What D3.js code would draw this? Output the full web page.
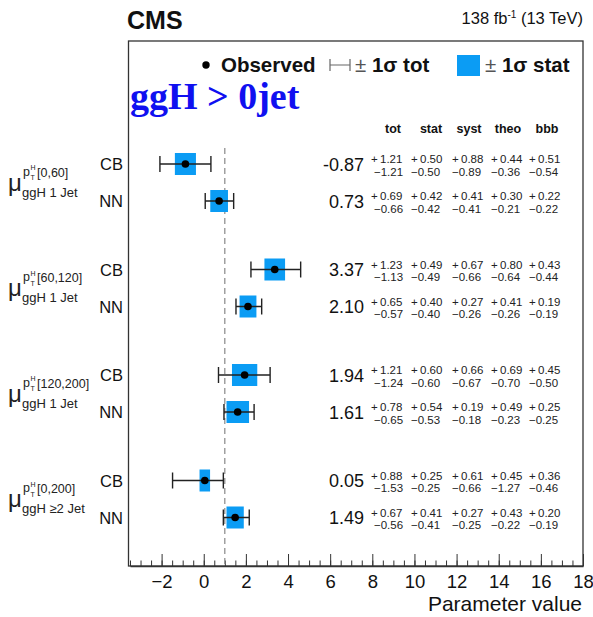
<!DOCTYPE html>
<html>
<head>
<meta charset="utf-8">
<script src="https://cdn.jsdelivr.net/npm/d3@7"></script>
<style>
  body { margin: 0; background: #fff; }
  svg { font-family: "Liberation Sans", Arial, Helvetica, sans-serif; }
</style>
</head>
<body>
<svg id="chart" width="593" height="617"></svg>
<script>
// bins and methods
var ptBins = ["[0,60]", "[60,120]", "[120,200]", "[0,200]"];
var jetLabels = ["ggH 1 Jet", "ggH 1 Jet", "ggH 1 Jet", "ggH \u22652 Jet"];
var methods = ["CB", "NN"];

// one entry per row: bin0 CB, bin0 NN, bin1 CB, ...
var central  = [-0.87, 0.73, 3.37, 2.10, 1.94, 1.61, 0.05, 1.49];
var totUp    = [1.21, 0.69, 1.23, 0.65, 1.21, 0.78, 0.88, 0.67];
var totDown  = [1.21, 0.66, 1.13, 0.57, 1.24, 0.65, 1.53, 0.56];
var statUp   = [0.50, 0.42, 0.49, 0.40, 0.60, 0.54, 0.25, 0.41];
var statDown = [0.50, 0.42, 0.49, 0.40, 0.60, 0.53, 0.25, 0.41];
var systUp   = [0.88, 0.41, 0.67, 0.27, 0.66, 0.19, 0.61, 0.27];
var systDown = [0.89, 0.41, 0.66, 0.26, 0.67, 0.18, 0.66, 0.25];
var theoUp   = [0.44, 0.30, 0.80, 0.41, 0.69, 0.49, 0.45, 0.43];
var theoDown = [0.36, 0.21, 0.64, 0.26, 0.70, 0.23, 1.27, 0.22];
var bbbUp    = [0.51, 0.22, 0.43, 0.19, 0.45, 0.25, 0.36, 0.20];
var bbbDown  = [0.54, 0.22, 0.44, 0.19, 0.50, 0.25, 0.46, 0.19];

var columns = ["tot", "stat", "syst", "theo", "bbb"];
var xTicks = [-2, 0, 2, 4, 6, 8, 10, 12, 14, 16, 18];
var refValue = 1;

var svg = d3.select("#chart");
var blue = "#0b9cf4";

var frame = { left: 128.5, right: 583, top: 41, bottom: 566 };

var x = d3.scaleLinear().domain([-3.5, 18]).range([130, 583]);
var yGroup = d3.scaleLinear().domain([0, 3]).range([164, 480.5]);
var methodOffset = 37;

var rows = central.map(function(v, i) {
  var g = Math.floor(i / 2), m = i % 2;
  return {
    y: yGroup(g) + m * methodOffset,
    value: v, method: methods[m],
    errs: [[totUp[i], totDown[i]], [statUp[i], statDown[i]], [systUp[i], systDown[i]],
           [theoUp[i], theoDown[i]], [bbbUp[i], bbbDown[i]]]
  };
});

// frame
svg.append("rect")
    .attr("x", frame.left).attr("y", frame.top)
    .attr("width", frame.right - frame.left).attr("height", frame.bottom - frame.top)
    .attr("fill", "none").attr("stroke", "#333").attr("stroke-width", 1.3);

// axis with inward ticks
var minor = svg.append("g").attr("transform", "translate(0," + frame.bottom + ")")
    .call(d3.axisBottom(x).tickValues(d3.range(-3.5, 18.01, 0.5)).tickSizeInner(-5.5).tickSizeOuter(0).tickFormat(""));
minor.select(".domain").remove();
minor.selectAll("line").attr("stroke", "#333");

var axis = svg.append("g").attr("transform", "translate(0," + frame.bottom + ")")
    .call(d3.axisBottom(x).tickValues(xTicks).tickSizeInner(-12).tickSizeOuter(0).tickPadding(9));
axis.select(".domain").attr("stroke", "#333").attr("stroke-width", 1.3);
axis.selectAll("line").attr("stroke", "#333");
axis.selectAll("text").attr("font-size", 18.5).attr("fill", "#111")
    .style("font-family", "Liberation Sans, Arial, sans-serif");

svg.append("text").attr("x", 582).attr("y", 611).attr("text-anchor", "end")
    .attr("font-size", 21).attr("fill", "#111").text("Parameter value");

// reference line
svg.append("line")
    .attr("x1", x(refValue)).attr("x2", x(refValue))
    .attr("y1", 148).attr("y2", frame.bottom)
    .attr("stroke", "#888").attr("stroke-width", 1.2).attr("stroke-dasharray", "6,4");

// header texts
svg.append("text").attr("x", 127).attr("y", 29).attr("font-size", 25)
    .attr("font-weight", "bold").attr("fill", "#111").text("CMS");
var lumi = svg.append("text").attr("x", 583).attr("y", 24).attr("text-anchor", "end")
    .attr("font-size", 16.5).attr("fill", "#111");
lumi.append("tspan").text("138 fb");
lumi.append("tspan").attr("dy", -6).attr("font-size", 10).text("-1");
lumi.append("tspan").attr("dy", 6).text(" (13 TeV)");

// legend
var ly = 72;
svg.append("circle").attr("cx", 206).attr("cy", ly - 7).attr("r", 3.7).attr("fill", "#000");
svg.append("text").attr("x", 221).attr("y", ly).attr("font-size", 20.5)
    .attr("font-weight", "bold").attr("fill", "#111").text("Observed");
svg.append("path").attr("d", "M330,59V71M330,65H350M350,59V71")
    .attr("stroke", "#666").attr("stroke-width", 1.2).attr("fill", "none");
svg.append("text").attr("x", 355).attr("y", ly).attr("font-size", 20.5).attr("fill", "#111")
    .html('<tspan font-weight="normal" fill="#555">\u00b1</tspan><tspan font-weight="bold"> 1\u03c3 tot</tspan>');
svg.append("rect").attr("x", 457).attr("y", 55).attr("width", 23).attr("height", 21).attr("fill", blue);
svg.append("text").attr("x", 485).attr("y", ly).attr("font-size", 20.5).attr("fill", "#111")
    .html('<tspan font-weight="normal" fill="#555">\u00b1</tspan><tspan font-weight="bold"> 1\u03c3 stat</tspan>');

svg.append("text").attr("x", 130).attr("y", 109)
    .style("font-family", "'Liberation Serif', 'Times New Roman', serif")
    .attr("font-size", 38).attr("font-weight", "bold").attr("fill", "#1010f0")
    .text("ggH > 0jet");

// table header
var colX = [371, 411, 452, 491, 529];
var headX = [393, 431, 469, 508, 547];
svg.selectAll(".head").data(columns).enter().append("text")
    .attr("x", function(d, i) { return headX[i]; }).attr("y", 133)
    .attr("text-anchor", "middle").attr("font-size", 12.5).attr("font-weight", "bold")
    .attr("fill", "#111").text(function(d) { return d; });

// left labels
ptBins.forEach(function(bin, g) {
  var mid = (yGroup(g) + yGroup(g) + methodOffset) / 2;
  var lab = svg.append("g").attr("fill", "#222");
  lab.append("text").attr("x", 8).attr("y", mid + 8).attr("font-size", 24).text("\u03bc");
  lab.append("text").attr("x", 23).attr("y", mid - 7).attr("font-size", 12.5).text("p");
  lab.append("text").attr("x", 30.5).attr("y", mid - 12.5).attr("font-size", 7).text("H");
  lab.append("text").attr("x", 30.5).attr("y", mid - 2.5).attr("font-size", 7).text("T");
  lab.append("text").attr("x", 37).attr("y", mid - 6).attr("font-size", 12.5).text(bin);
  lab.append("text").attr("x", 22).attr("y", mid + 14).attr("font-size", 13).text(jetLabels[g]);
});

var row = svg.selectAll(".row").data(rows).enter().append("g").attr("class", "row");

row.append("text").attr("x", 123).attr("y", function(d) { return d.y + 6; })
    .attr("text-anchor", "end").attr("font-size", 16.5).attr("fill", "#111")
    .text(function(d) { return d.method; });

// stat box
row.append("rect")
    .attr("x", function(d) { return x(d.value - d.errs[1][1]); })
    .attr("width", function(d) { return x(d.value + d.errs[1][0]) - x(d.value - d.errs[1][1]); })
    .attr("y", function(d) { return d.y - 11; }).attr("height", 22)
    .attr("fill", blue);

// total error bar
row.append("path")
    .attr("d", function(d) {
      var x0 = x(d.value - d.errs[0][1]), x1 = x(d.value + d.errs[0][0]);
      return "M" + x0 + "," + (d.y - 8) + "V" + (d.y + 8) +
             "M" + x0 + "," + d.y + "H" + x1 +
             "M" + x1 + "," + (d.y - 8) + "V" + (d.y + 8);
    })
    .attr("stroke", "#222").attr("stroke-width", 1.4).attr("fill", "none");

row.append("circle").attr("cx", function(d) { return x(d.value); })
    .attr("cy", function(d) { return d.y; }).attr("r", 3.8).attr("fill", "#000");

// numbers
row.append("text").attr("x", 364).attr("y", function(d) { return d.y + 6.5; })
    .attr("text-anchor", "end").attr("font-size", 18).attr("fill", "#111")
    .text(function(d) { return d.value.toFixed(2); });

row.each(function(d) {
  var gsel = d3.select(this);
  d.errs.forEach(function(e, j) {
    gsel.append("text").attr("x", colX[j]).attr("y", d.y - 1)
        .attr("font-size", 11.5).attr("fill", "#222")
        .text("+\u2009" + e[0].toFixed(2));
    gsel.append("text").attr("x", colX[j] + (j === 0 ? 3 : 0)).attr("y", d.y + 11.5)
        .attr("font-size", 11.5).attr("fill", "#222")
        .text("\u2212" + e[1].toFixed(2));
  });
});
</script>
</body>
</html>
